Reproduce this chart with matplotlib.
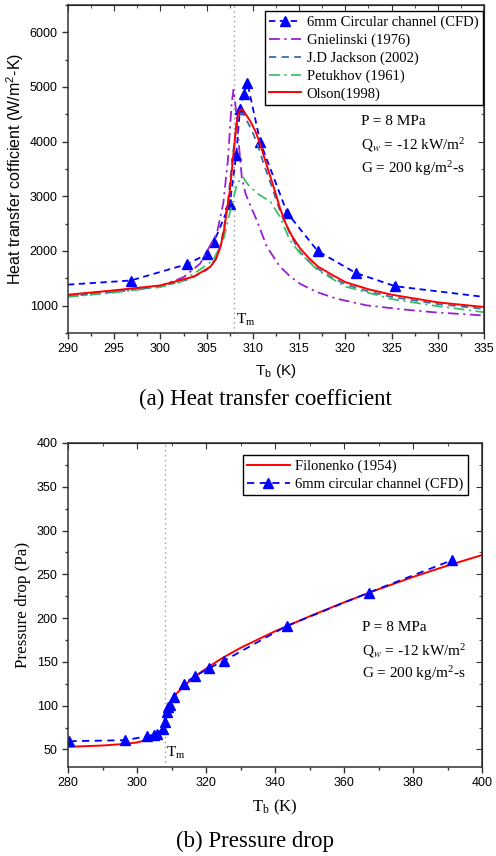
import matplotlib
matplotlib.use('Agg')
import matplotlib.pyplot as plt
from matplotlib.ticker import MultipleLocator

plt.rcParams['mathtext.fontset'] = 'stix'
SERIF = 'Liberation Serif'
SANS = 'Liberation Sans'

# ---- (a) heat transfer coefficient ----
cfd_T = [290, 296.8, 302.9, 305.0, 305.8, 307.5, 308.2, 308.6, 309.0, 309.4, 310.8, 313.7, 317.0, 321.1, 325.4, 335]
cfd_h = [1385, 1460, 1760, 1940, 2170, 2860, 3760, 4590, 4880, 5080, 3990, 2700, 2000, 1600, 1355, 1160]

gni_T = [290, 295, 300, 302.5, 304.3, 306.1, 306.8, 307.3, 307.7, 307.9, 308.1, 308.4, 308.8, 309.2, 309.8, 310.4,
         311.5, 312.9, 314, 315.1, 316.9, 319, 322.3, 326, 329.5, 335]
gni_h = [1170, 1250, 1360, 1520, 1770, 2320, 2875, 3670, 4700, 4950, 4700, 4100, 3350, 3050, 2800, 2570,
         2080, 1720, 1540, 1400, 1250, 1130, 1005, 935, 880, 820]

jac_T = [290, 295, 300, 303, 305, 306, 306.5, 306.9, 307.3, 307.8, 308.3, 308.7, 309.0, 309.3, 309.9, 310.5, 311.2,
         312, 312.5, 313, 314, 315, 316, 317, 318.5, 320, 322.5, 325, 330, 335]
jac_h = [1170, 1250, 1350, 1480, 1650, 1860, 2100, 2450, 2900, 3700, 4400, 4520, 4510, 4400, 4200, 3950, 3580,
         3200, 2950, 2700, 2320, 2000, 1820, 1680, 1520, 1390, 1260, 1160, 1030, 940]

pet_T = [290, 295, 300, 302.1, 303.6, 305.7, 306.8, 307.5, 308.3, 308.9, 309.5, 310.5, 311.9, 312.9, 314, 315, 317,
         320, 325, 330, 335]
pet_h = [1160, 1240, 1340, 1430, 1580, 1830, 2200, 2690, 3240, 3350, 3210, 3050, 2900, 2630, 2200, 1980, 1650,
         1350, 1120, 990, 880]

ols_T = [290, 295, 300, 302, 303.6, 305.4, 306.0, 306.5, 306.9, 307.2, 307.5, 307.7, 308.0, 308.2, 308.4, 308.6,
         308.8, 309.0, 309.7, 310.3, 310.8, 311.4, 312.0, 312.5, 312.9, 313.5, 314.2, 315.1, 316, 317, 318.5, 320,
         322.5, 325, 330, 335]
ols_h = [1200, 1280, 1370, 1460, 1530, 1710, 1850, 2080, 2400, 2750, 3100, 3430, 3950, 4300, 4500, 4580,
         4590, 4560, 4380, 4180, 3950, 3620, 3300, 3030, 2800, 2520, 2280, 2050, 1880, 1720, 1570, 1430,
         1300, 1200, 1060, 975]

# ---- (b) pressure drop ----
fil_T = [280, 290, 297, 300, 303, 305, 306, 307, 307.5, 308, 308.5, 309, 310, 311, 314, 317, 321, 325, 330, 340,
         350, 360, 370, 380, 390, 400]
fil_p = [53, 54.5, 56.5, 58, 61, 64, 67, 71, 76, 84, 92, 99, 106, 112, 124, 134, 145, 155, 166, 185,
         202, 218, 233, 247, 260, 272]

cfdp_T = [280.4, 296.6, 302.8, 304.9, 305.7, 307.4, 308.0, 308.6, 309.1, 309.6, 310.7, 313.6, 316.9, 321.0, 325.3,
          343.4, 367.1, 391.2]
cfdp_p = [59.4, 60.6, 65, 67, 68, 73.5, 81, 93, 98.5, 101, 110, 125, 134, 143, 151.5,
          191, 229, 266]

T_m = 308
cond = ['P = 8 MPa', 'Q$_w$ = -12 kW/m$^\\mathregular{2}$', 'G = 200 kg/m$^\\mathregular{2}$-s']

fig = plt.figure(figsize=(4.96, 8.56), dpi=100)


def frame(ax, xmaj, xmin, ymaj, ymin, tickfont):
    for s in ax.spines.values():
        s.set_color('#333333')
        s.set_linewidth(1.1)
    ax.xaxis.set_major_locator(MultipleLocator(xmaj))
    ax.xaxis.set_minor_locator(MultipleLocator(xmin))
    ax.yaxis.set_major_locator(MultipleLocator(ymaj))
    ax.yaxis.set_minor_locator(MultipleLocator(ymin))
    ax.tick_params(which='both', direction='out', colors='#333333', labelcolor='black')
    ax.tick_params(which='major', length=4, width=1)
    ax.tick_params(which='minor', length=2.5, width=1)
    for lab in ax.get_xticklabels() + ax.get_yticklabels():
        lab.set_fontfamily(tickfont)
        lab.set_fontsize(9)
    top = ax.secondary_xaxis('top')
    top.xaxis.set_major_locator(MultipleLocator(xmaj))
    top.xaxis.set_minor_locator(MultipleLocator(xmin))
    top.tick_params(which='both', direction='in', labeltop=False, colors='#333333')
    top.tick_params(which='major', length=4)
    top.tick_params(which='minor', length=2.5)
    right = ax.secondary_yaxis('right')
    right.yaxis.set_major_locator(MultipleLocator(ymaj))
    right.yaxis.set_minor_locator(MultipleLocator(ymin))
    right.tick_params(which='both', direction='in', labelright=False, colors='#333333')
    right.tick_params(which='major', length=4)
    right.tick_params(which='minor', length=2.5)


# top panel
ax1 = fig.add_axes([0.1371, 0.611, 0.8387, 0.3832])
ax1.axvline(T_m, color='#999999', ls=(0, (1, 2.5)), lw=1)
ax1.plot(cfd_T, cfd_h, color='#0000ff', ls=(0, (3.5, 2.5)), lw=1.3, marker='^', ms=7,
         markevery=list(range(1, len(cfd_T) - 1)), label='6mm Circular channel (CFD)')
ax1.plot(gni_T, gni_h, color='#9b1fd0', ls=(0, (6, 2.5, 1.2, 2.5)), lw=1.3, label='Gnielinski (1976)')
ax1.plot(jac_T, jac_h, color='#3a6ea5', ls=(0, (4, 3)), lw=1.3, label='J.D Jackson (2002)')
ax1.plot(pet_T, pet_h, color='#3cbf6a', ls=(0, (6, 2.5, 1.2, 2.5)), lw=1.3, label='Petukhov (1961)')
ax1.plot(ols_T, ols_h, color='#ff0000', lw=1.4, label='Olson(1998)')
ax1.set_xlim(290, 335)
ax1.set_ylim(500, 6500)
frame(ax1, 5, 2.5, 1000, 500, SANS)
ax1.set_xlabel('T$_\\mathregular{b}$ (K)', family=SANS, fontsize=11, labelpad=5)
ax1.set_ylabel('Heat transfer cofficient (W/m$^\\mathregular{2}$-K)', family=SANS, fontsize=11.5, labelpad=3)
leg = ax1.legend(loc='upper right', bbox_to_anchor=(1.0, 0.985), prop={'family': SERIF, 'size': 10.5},
                 fancybox=False, edgecolor='black', framealpha=1, handlelength=2.2,
                 handletextpad=0.35, borderpad=0.3, labelspacing=0.3, borderaxespad=0.1)
leg.get_frame().set_linewidth(1)
for i, s in enumerate(cond):
    ax1.text(0.705, 0.645 - i * 0.071, s, transform=ax1.transAxes, family=SERIF, fontsize=11, va='center')
ax1.text(T_m + 0.2, 665, 'T$_\\mathregular{m}$', family=SERIF, fontsize=11)

# bottom panel
ax2 = fig.add_axes([0.1371, 0.104, 0.8347, 0.3785])
ax2.axvline(T_m, color='#999999', ls=(0, (1, 2.5)), lw=1)
ax2.plot(fil_T, fil_p, color='#ff0000', lw=1.4, label='Filonenko (1954)')
ax2.plot(cfdp_T, cfdp_p, color='#0000ff', ls=(0, (4, 3)), lw=1.3, marker='^', ms=7,
         label='6mm circular channel (CFD)')
ax2.set_xlim(280, 400)
ax2.set_ylim(30, 400)
frame(ax2, 20, 10, 50, 25, SANS)
ax2.set_xlabel('T$_\\mathregular{b}$ (K)', family=SERIF, fontsize=12, labelpad=6)
ax2.set_ylabel('Pressure drop (Pa)', family=SERIF, fontsize=12.3, labelpad=4)
leg2 = ax2.legend(loc='upper right', bbox_to_anchor=(0.984, 0.985), prop={'family': SERIF, 'size': 10.5},
                  fancybox=False, edgecolor='black', framealpha=1, handlelength=2.9,
                  handletextpad=0.4, borderpad=0.3, labelspacing=0.3)
leg2.get_frame().set_linewidth(1)
for i, s in enumerate(cond):
    ax2.text(0.71, 0.43 - i * 0.071, s, transform=ax2.transAxes, family=SERIF, fontsize=11, va='center')
ax2.text(T_m + 0.3, 41, 'T$_\\mathregular{m}$', family=SERIF, fontsize=11)

fig.text(0.536, 1 - 399 / 856, '(a) Heat transfer coefficient', family=SERIF, fontsize=16.5, ha='center', va='center')
fig.text(0.514, 1 - 841 / 856, '(b) Pressure drop', family=SERIF, fontsize=16.5, ha='center', va='center')

fig.savefig('out.png', dpi=100)
